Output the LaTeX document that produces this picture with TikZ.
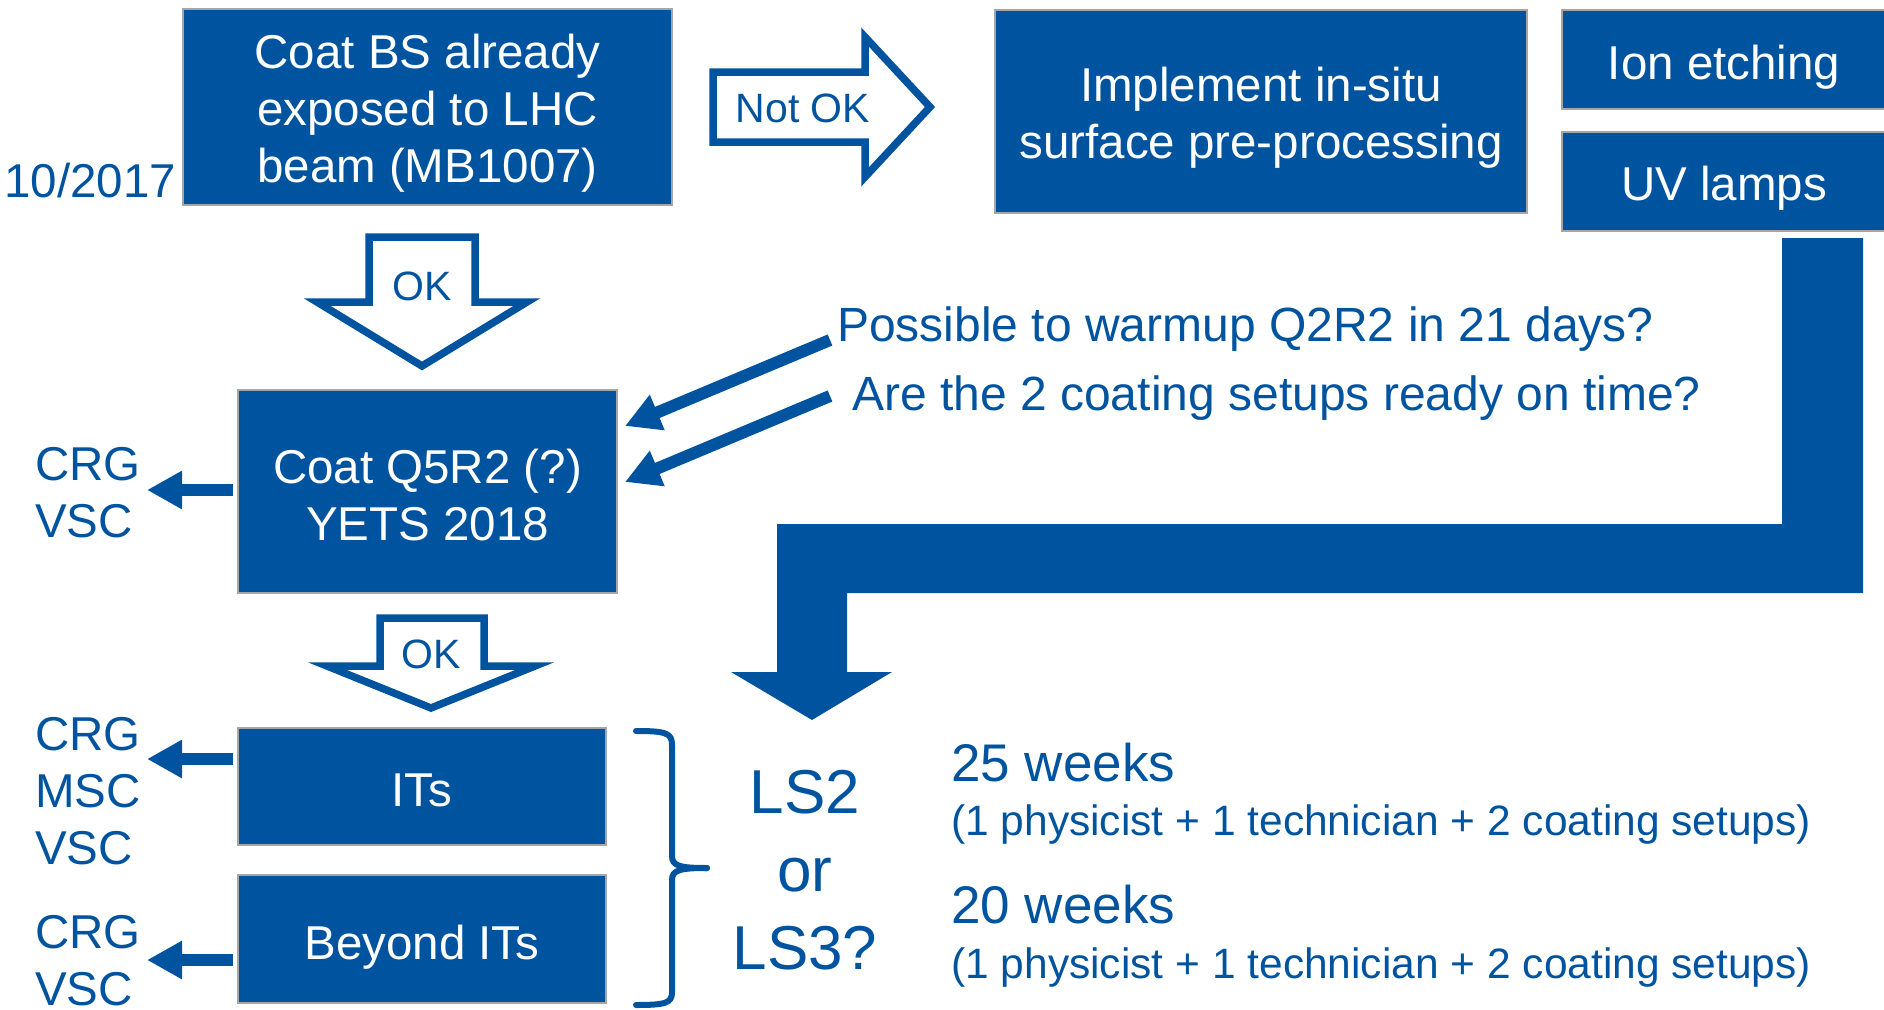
\documentclass[tikz,border=0pt]{standalone}
\usepackage{fontspec}
\setmainfont{Liberation Sans}
\usetikzlibrary{arrows.meta}
\definecolor{cblue}{RGB}{0,84,159}
\definecolor{cgrey}{RGB}{166,166,166}
\begin{document}
\begin{tikzpicture}[x=1pt,y=-1pt,
  box/.style={fill=cblue, draw=cgrey, line width=2pt, inner sep=0pt},
  boxtext/.style={text=white, inner sep=0pt, align=center, font=\fontsize{47.5}{57}\selectfont},
  hollow/.style={draw=cblue, fill=white, line width=7.5pt, line join=miter},
  oklabel/.style={text=cblue, inner sep=0pt, font=\fontsize{41}{49}\selectfont},
  lbl/.style={text=cblue, inner sep=0pt, align=left, anchor=west, font=\fontsize{47.5}{57}\selectfont},
  thinarrow/.style={draw=cblue, line width=12pt, -{Triangle[length=35pt,width=36pt]}},
  bigarrow/.style={fill=cblue},
  bracepath/.style={draw=cblue, line width=6pt, line cap=round},
]
\useasboundingbox (0,0) rectangle (1884,1009);
\clip (0,0) rectangle (1884,1009);

% boxes
\node[box, minimum width=489pt, minimum height=196pt] (bs) at (427.5,107) {};
\node[boxtext] (bst) at (427.5,113) {Coat BS already\\exposed to LHC\\beam (MB1007)};
\node[box, minimum width=532pt, minimum height=203pt] (impl) at (1261,111.5) {};
\node[boxtext] (implt) at (1261,117.5) {Implement in-situ\\surface pre-processing};
\node[box, minimum width=328pt, minimum height=99pt] (ion) at (1726,59.5) {};
\node[boxtext] (iont) at (1724,67) {Ion etching};
\node[box, minimum width=328pt, minimum height=99pt] (uv) at (1726,181.5) {};
\node[boxtext] (uvt) at (1724,188) {UV lamps};
\node[box, minimum width=379pt, minimum height=203pt] (q5) at (427.5,491.5) {};
\node[boxtext] (q5t) at (427.5,495.5) {Coat Q5R2 (?)\\YETS 2018};
\node[box, minimum width=368pt, minimum height=117pt] (its) at (422,786.5) {};
\node[boxtext] (itst) at (422,790.5) {ITs};
\node[box, minimum width=368pt, minimum height=128pt] (bey) at (422,939) {};
\node[boxtext] (beyt) at (422,947) {Beyond ITs};

% date
\node[lbl] (date) at (4,181) {10/2017};

% Not OK hollow arrow
\draw[hollow] (713,72) -- (865,72) -- (865,37) -- (930,107) -- (865,177) -- (865,142) -- (713,142) -- cycle;
\node[oklabel] (notok) at (803,108) {Not OK};

% OK arrow 1
\draw[hollow] (369,237) -- (475,237) -- (475,302) -- (527,302) -- (422,366) -- (317,302) -- (369,302) -- cycle;
\node[oklabel] (ok1) at (422,286) {OK};

% OK arrow 2
\draw[hollow] (380,618) -- (484,618) -- (484,666) -- (535,666) -- (431,708) -- (327,666) -- (380,666) -- cycle;
\node[oklabel] (ok2) at (431,654) {OK};

% big L-shaped arrow
\fill[bigarrow] (1782,238) -- (1863,238) -- (1863,593) -- (847,593) -- (847,672) -- (892,672) -- (812,720) -- (731,672) -- (777,672) -- (777,524) -- (1782,524) -- cycle;

% questions
\node[lbl, font=\fontsize{48}{57}\selectfont] (qa) at (837,329) {Possible to warmup Q2R2 in 21 days?};
\node[lbl, font=\fontsize{48}{57}\selectfont] (qb) at (852,398) {Are the 2 coating setups ready on time?};
\coordinate (qas) at (830,340);
\coordinate (qbs) at (830,396);
\coordinate (qat) at (625,426);
\coordinate (qbt) at (625,482);
\draw[thinarrow] (qas) -- (qat);
\draw[thinarrow] (qbs) -- (qbt);

% left labels and arrows
\node[lbl] (g1) at (35,493) {CRG\\VSC};
\node[lbl] (g2) at (35,791) {CRG\\MSC\\VSC};
\node[lbl] (g3) at (35,960.5) {CRG\\VSC};
\coordinate (t1) at (147,490);
\coordinate (t2) at (147,759);
\coordinate (t3) at (147,960);
\draw[thinarrow] ([xshift=-4pt]q5.west |- t1) -- (t1);
\draw[thinarrow] ([xshift=-4pt]its.west |- t2) -- (t2);
\draw[thinarrow] ([xshift=-4pt]bey.west |- t3) -- (t3);

% brace
\draw[bracepath] (636,731) .. controls (666,731) and (672,733) .. (672,745) -- (672,856) .. controls (672,866) and (680,868) .. (707,868);
\draw[bracepath] (707,868) .. controls (680,868) and (672,870) .. (672,880) -- (672,992) .. controls (672,1003) and (666,1005) .. (636,1005);

% LS2 or LS3?
\node[text=cblue, inner sep=0pt, align=center, font=\fontsize{62}{78}\selectfont] (ls) at (805,870) {LS2\\or\\LS3?};

% durations
\node[lbl, font=\fontsize{53}{60}\selectfont] (w25) at (951,763) {25 weeks};
\node[lbl, font=\fontsize{42.5}{50}\selectfont] (p25) at (951,825) {(1 physicist + 1 technician + 2 coating setups)};
\node[lbl, font=\fontsize{53}{60}\selectfont] (w20) at (951,905) {20 weeks};
\node[lbl, font=\fontsize{42.5}{50}\selectfont] (p20) at (951,967) {(1 physicist + 1 technician + 2 coating setups)};
\end{tikzpicture}
\end{document}
